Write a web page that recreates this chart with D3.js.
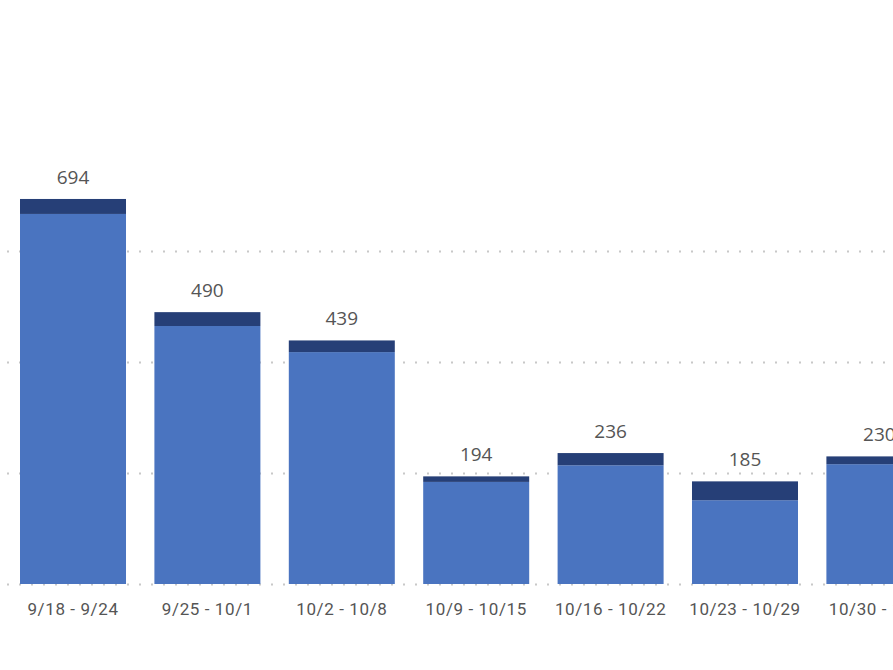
<!DOCTYPE html>
<html>
<head>
<meta charset="utf-8">
<script src="https://cdn.jsdelivr.net/npm/d3@7"></script>
<style>
  body { margin: 0; background: #fff; }
  svg { display: block; }
</style>
</head>
<body>
<svg id="chart" width="893" height="670"></svg>
<script>
// weekly counts
const weeks = ["9/18 - 9/24", "9/25 - 10/1", "10/2 - 10/8", "10/9 - 10/15", "10/16 - 10/22", "10/23 - 10/29", "10/30 - 11/5"]
const lightVals = [667, 465, 418, 184, 214, 151, 216]
const darkVals = [27, 25, 21, 10, 22, 34, 14]
const gridTicks = [0, 200, 400, 600]

const width = 893, height = 670

let svg = d3.select('#chart')

let x = d3.scaleBand().domain(weeks).range([5.8, 946.6]).paddingInner(0.2113).paddingOuter(0.1057)
let y = d3.scaleLinear().domain([0, 1000]).range([584, 29.2])

let rows = weeks.map((w, i) => ({ week: w, light: lightVals[i], dark: darkVals[i] }))
let stack = d3.stack().keys(['light', 'dark'])(rows)
let colors = { light: '#4a74c0', dark: '#263f77' }

// dotted gridlines
svg.append('g').selectAll('line').data(gridTicks).enter().append('line')
  .attr('x1', 7).attr('x2', width)
  .attr('y1', d => Math.round(y(d)) + 0.5).attr('y2', d => Math.round(y(d)) + 0.5)
  .attr('stroke', '#c8c8c8').attr('stroke-width', 2).attr('stroke-dasharray', '2,10')

let bars = svg.append('g')
bars.selectAll('g').data(stack).enter().append('g')
  .attr('fill', d => colors[d.key])
  .selectAll('rect').data(d => d).enter().append('rect')
  .attr('x', d => x(d.data.week))
  .attr('width', x.bandwidth())
  .attr('y', d => y(d[1]))
  .attr('height', d => y(d[0]) - y(d[1]))

// totals above the bars
svg.append('g').selectAll('text').data(rows).enter().append('text')
  .attr('x', d => x(d.week) + x.bandwidth() / 2)
  .attr('y', d => y(d.light + d.dark) - 15)
  .attr('text-anchor', 'middle')
  .attr('font-family', '"Open Sans", sans-serif')
  .attr('font-size', 19)
  .attr('fill', '#555')
  .text(d => d.light + d.dark)

// x axis, labels only
let xAxis = svg.append('g').attr('transform', 'translate(0,584)')
  .call(d3.axisBottom(x).tickSize(0).tickPadding(19))
xAxis.select('.domain').remove()
xAxis.selectAll('text')
  .attr('font-family', 'Roboto, sans-serif')
  .attr('font-size', 17)
  .attr('letter-spacing', '0.6px')
  .attr('fill', '#555')
</script>
</body>
</html>
